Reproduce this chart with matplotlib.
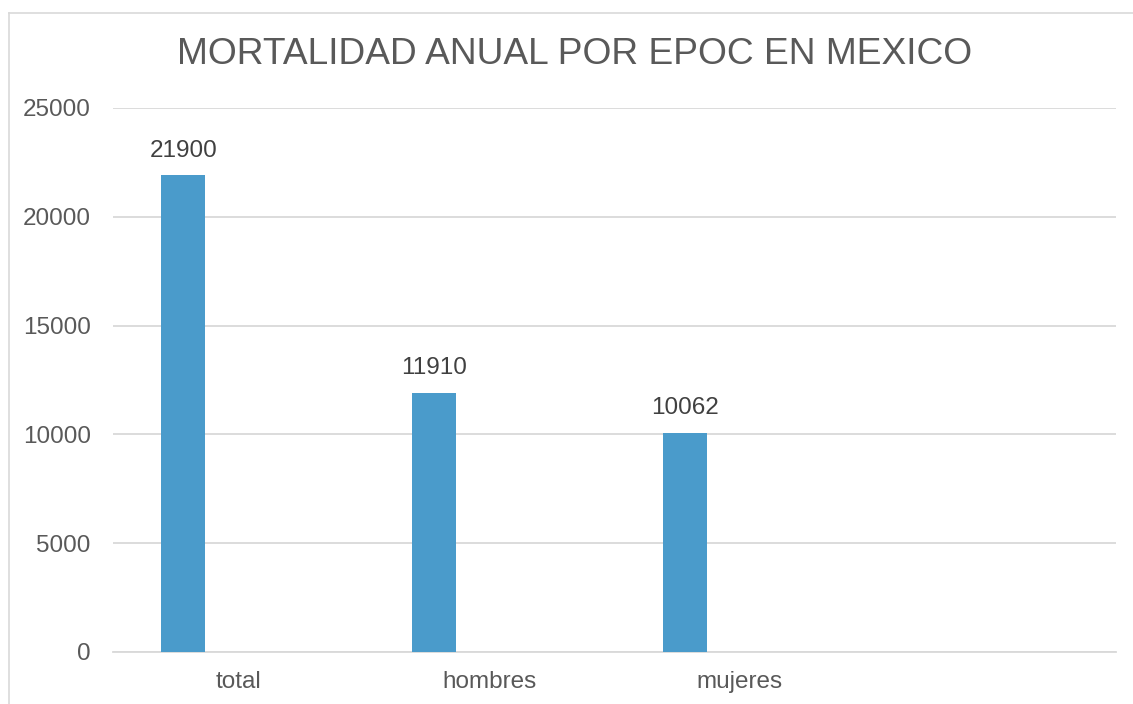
import matplotlib
matplotlib.use('Agg')
import matplotlib.pyplot as plt
from matplotlib.lines import Line2D

plt.rcParams['font.family'] = ['Liberation Sans', 'DejaVu Sans']

# data
categorias = ['total', 'hombres', 'mujeres', '']
valores = [21900, 11910, 10062]
titulo = 'MORTALIDAD ANUAL POR EPOC EN MEXICO'
yticks = [0, 5000, 10000, 15000, 20000, 25000]

bar_color = '#4a9bcb'
text_color = '#595959'
grid_color = '#d9d9d9'

W, H = 1133, 704
fig = plt.figure(figsize=(W / 100, H / 100), dpi=100)
ax = fig.add_axes([113 / W, 52 / H, (1116 - 113) / W, (652 - 108) / H])

x = list(range(len(valores)))
pos = [i - 0.22 for i in x]
ax.bar(pos, valores, width=0.175, color=bar_color, zorder=3)

for p, v in zip(pos, valores):
    ax.annotate(str(v), (p, v), xytext=(0, 10), textcoords='offset points',
                ha='center', va='bottom', fontsize=17.5, color='#404040')

ax.set_xlim(-0.5, len(categorias) - 0.5)
ax.set_ylim(0, 25000)
ax.set_yticks(yticks)
ax.set_yticklabels([str(t) for t in yticks])
ax.set_xticks(range(len(categorias)))
ax.set_xticklabels(categorias)
ax.tick_params(axis='both', length=0, labelsize=17.5, colors=text_color)
ax.tick_params(axis='y', pad=16)
ax.tick_params(axis='x', pad=14)
ax.yaxis.grid(True, color=grid_color, linewidth=1.3, zorder=0)
for s in ['top', 'right', 'left']:
    ax.spines[s].set_visible(False)
ax.spines['bottom'].set_color(grid_color)
ax.spines['bottom'].set_linewidth(1.3)

fig.text(575 / W, 1 - 55 / H, titulo, ha='center', va='center',
         fontsize=26.7, color=text_color)

# chart border
fig.add_artist(Line2D([8.5 / W, 8.5 / W], [0, 1 - 12.5 / H], transform=fig.transFigure,
                      color=grid_color, linewidth=1.2))
fig.add_artist(Line2D([8.5 / W, 1], [1 - 12.5 / H, 1 - 12.5 / H], transform=fig.transFigure,
                      color=grid_color, linewidth=1.2))

fig.savefig('out.png', dpi=100)
